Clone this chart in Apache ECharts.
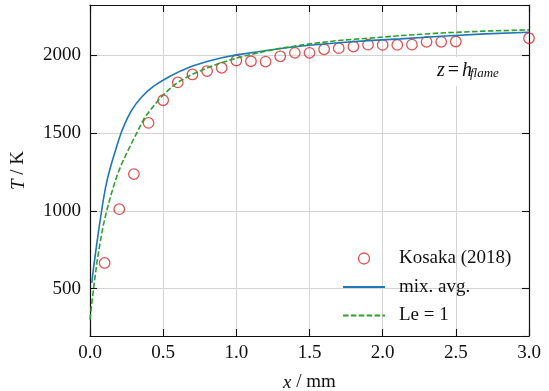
<!DOCTYPE html>
<html><head><meta charset="utf-8">
<script src="https://cdn.jsdelivr.net/npm/echarts@6/dist/echarts.min.js"></script>
<style>html,body{margin:0;padding:0;background:#fff}#c{width:549px;height:391px}</style>
</head><body><div id="c"></div>
<script>
// Kosaka (2018) experimental points
const kosakaX = [0.1, 0.2, 0.3, 0.4, 0.5, 0.6, 0.7, 0.8, 0.9, 1.0, 1.1, 1.2, 1.3, 1.4, 1.5, 1.6, 1.7, 1.8, 1.9, 2.0, 2.1, 2.2, 2.3, 2.4, 2.5, 3.0];
const kosakaT = [665, 1011, 1237, 1566, 1712, 1827, 1878, 1900, 1921, 1968, 1963, 1961, 1995, 2017, 2017, 2040, 2047, 2058, 2070, 2068, 2068, 2070, 2088, 2088, 2090, 2111];
// mix. avg. curve
const mixAvgX = [0.012, 0.025, 0.043, 0.06, 0.075, 0.09, 0.105, 0.12, 0.135, 0.15, 0.165, 0.18, 0.2, 0.22, 0.24, 0.26, 0.285, 0.315, 0.35, 0.395, 0.44, 0.49, 0.55, 0.62, 0.7, 0.8, 0.9, 1.0, 1.15, 1.23, 1.37, 1.5, 1.7, 1.9, 2.12, 2.4, 2.7, 3.0];
const mixAvgT = [537, 640, 765, 880, 975, 1065, 1145, 1210, 1265, 1315, 1362, 1408, 1468, 1520, 1565, 1605, 1648, 1690, 1730, 1772, 1806, 1836, 1868, 1901, 1932, 1962, 1985, 2004, 2024, 2035, 2053, 2066, 2082, 2096, 2107, 2124, 2139, 2150];
// Le = 1 curve
const le1X = [0, 0.014, 0.03, 0.05, 0.07, 0.089, 0.11, 0.134, 0.16, 0.19, 0.22, 0.25, 0.28, 0.305, 0.34, 0.374, 0.42, 0.465, 0.51, 0.556, 0.6, 0.68, 0.78, 0.88, 1.0, 1.15, 1.3, 1.5, 1.7, 1.9, 2.12, 2.4, 2.7, 3.0];
const le1T = [301, 420, 545, 686, 800, 900, 985, 1071, 1155, 1242, 1310, 1370, 1428, 1474, 1540, 1602, 1658, 1710, 1756, 1795, 1828, 1870, 1912, 1948, 1983, 2018, 2046, 2075, 2097, 2111, 2128, 2145, 2157, 2165];

const xMin = 0, xMax = 3.0, xStep = 0.5;
const yMin = 195, yMax = 2325;

const FONT = 'Liberation Serif, Times New Roman, serif';
const BLACK = '#111';
const zip = (a, b) => a.map((v, i) => [v, b[i]]);

const chart = echarts.init(document.getElementById('c'), null, {renderer: 'canvas'});
const tickCommon = {show: true, inside: true, length: 7, lineStyle: {color: BLACK, width: 1.1}};
const lineCommon = {show: true, onZero: false, lineStyle: {color: BLACK, width: 1.2}};

chart.setOption({
  animation: false,
  backgroundColor: '#fff',
  grid: {left: 90, right: 20, top: 5, bottom: 55, containLabel: false, outerBoundsMode: 'none'},
  xAxis: [{
    type: 'value', min: xMin, max: xMax, interval: xStep, position: 'bottom',
    axisLine: lineCommon, axisTick: tickCommon,
    axisLabel: {color: BLACK, fontFamily: FONT, fontSize: 19, margin: 8, formatter: v => v.toFixed(1)},
    splitLine: {show: true, lineStyle: {color: '#d3d3d3', width: 1}},
    name: '{i|x} / mm', nameLocation: 'middle', nameGap: 37,
    nameTextStyle: {color: BLACK, fontFamily: FONT, fontSize: 19, rich: {i: {fontStyle: 'italic', fontFamily: FONT, fontSize: 19, color: BLACK}}}
  }, {
    type: 'value', min: xMin, max: xMax, interval: xStep, position: 'top',
    axisLine: lineCommon, axisTick: tickCommon, axisLabel: {show: false}, splitLine: {show: false}
  }],
  yAxis: [{
    type: 'value', min: yMin, max: yMax, splitNumber: 5, position: 'left',
    axisLine: lineCommon, axisTick: tickCommon,
    axisLabel: {color: BLACK, fontFamily: FONT, fontSize: 19, margin: 9, showMinLabel: false, showMaxLabel: false, formatter: v => String(Math.round(v))},
    splitLine: {show: true, lineStyle: {color: '#d3d3d3', width: 1}},
    name: '{i|T} / K', nameLocation: 'middle', nameGap: 62, nameRotate: 90,
    nameTextStyle: {color: BLACK, fontFamily: FONT, fontSize: 19, rich: {i: {fontStyle: 'italic', fontFamily: FONT, fontSize: 19, color: BLACK}}}
  }, {
    type: 'value', min: yMin, max: yMax, splitNumber: 5, position: 'right',
    axisLine: lineCommon, axisTick: tickCommon, axisLabel: {show: false}, splitLine: {show: false}
  }],
  legend: {
    orient: 'vertical', left: 342, top: 249, padding: 0, itemWidth: 42, itemHeight: 11, itemGap: 9.5,
    textStyle: {fontFamily: FONT, fontSize: 19, color: BLACK, padding: [0, 0, 0, 9]},
    data: [
      {name: 'Kosaka (2018)', icon: 'circle', itemStyle: {color: 'rgba(0,0,0,0)', borderColor: '#d62728', borderWidth: 1.3}},
      {name: 'mix. avg.', itemStyle: {opacity: 0}},
      {name: 'Le = 1', itemStyle: {opacity: 0}}
    ]
  },
  series: [{
    name: 'Kosaka (2018)', type: 'scatter', data: zip(kosakaX, kosakaT),
    symbol: 'circle', symbolSize: 10.5, clip: true,
    itemStyle: {color: 'rgba(0,0,0,0)', borderColor: '#d62728', borderWidth: 1.3},
    emphasis: {disabled: true}
  }, {
    name: 'mix. avg.', type: 'line', data: zip(mixAvgX, mixAvgT), symbol: 'none', smooth: false,
    lineStyle: {color: '#1f77b4', width: 1.6}, itemStyle: {color: '#1f77b4'}, emphasis: {disabled: true}
  }, {
    name: 'Le = 1', type: 'line', data: zip(le1X, le1T), symbol: 'none', smooth: false,
    lineStyle: {color: '#2ca02c', width: 1.6, type: [5.5, 2.4]}, itemStyle: {color: '#2ca02c'}, emphasis: {disabled: true}
  }],
  graphic: [
    {type: 'rect', shape: {x: 431, y: 57, width: 80, height: 29}, style: {fill: '#fff'}, z: 50},
    {type: 'text', x: 437, y: 70.5, z: 51, style: {
      text: '{i|z}{n|=}{i|h}', verticalAlign: 'middle', align: 'left',
      rich: {i: {fontFamily: FONT, fontStyle: 'italic', fontSize: 20, fill: BLACK},
             n: {fontFamily: FONT, fontSize: 20, fill: BLACK, padding: [0, 3, 0, 3]}}
    }},
    {type: 'text', x: 470, y: 74, z: 51, style: {
      text: 'flame', verticalAlign: 'middle', align: 'left',
      font: 'italic 13px ' + FONT, fill: BLACK
    }}
  ]
});
</script></body></html>
